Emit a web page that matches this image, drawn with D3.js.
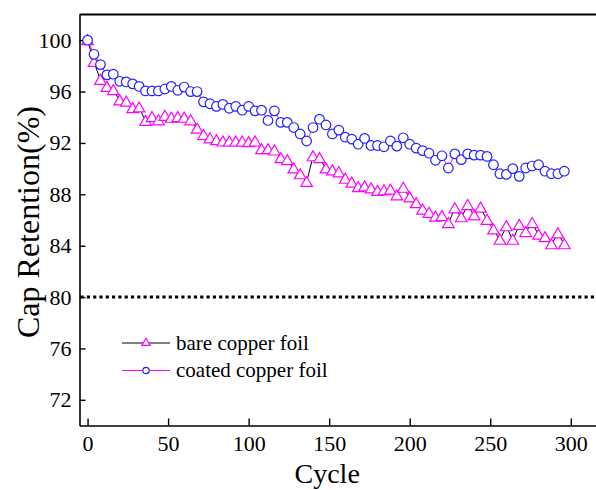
<!DOCTYPE html>
<html>
<head>
<meta charset="utf-8">
<script src="https://cdn.jsdelivr.net/npm/d3@7"></script>
<style>
  body { margin: 0; background: #fff; }
  text { font-family: "Liberation Serif", "Times New Roman", serif; fill: #000; }
</style>
</head>
<body>
<div id="chart"></div>
<script>
// cycles where markers sit (every 4 cycles)
const cycles = d3.range(0, 297, 4)

const bare = [100, 98.3, 96.9, 96.35, 96.1, 95.3, 95.2, 94.7, 94.75, 93.7,
    94.0, 93.75, 94.1, 93.95, 94.0, 93.95, 93.75, 93.1, 92.6, 92.35,
    92.2, 92.1, 92.1, 92.1, 92.1, 92.05, 92.1, 91.5, 91.5, 91.4,
    90.8, 90.65, 90.0, 89.55, 88.95, 90.95, 90.8, 90.0, 89.85, 89.7,
    89.2, 88.9, 88.55, 88.6, 88.45, 88.25, 88.3, 88.35, 87.9, 88.5,
    87.75, 87.3, 86.8, 86.55, 86.25, 86.3, 85.75, 86.9, 86.2, 87.15,
    86.35, 86.95, 86.0, 85.25, 84.45, 85.5, 84.45, 85.6, 85.05, 85.75,
    84.85, 84.65, 84.1, 84.95, 84.1]

const coated = [100, 98.9, 98.1, 97.3, 97.35, 96.8, 96.75, 96.6, 96.4, 96.05,
    96.05, 96.05, 96.2, 96.4, 96.1, 96.35, 96.0, 96.0, 95.2, 95.05,
    94.85, 95.0, 94.7, 94.85, 94.55, 94.85, 94.5, 94.55, 93.75, 94.5,
    93.6, 93.6, 93.2, 92.7, 92.15, 93.2, 93.85, 93.4, 92.7, 93.0,
    92.45, 92.3, 91.9, 92.35, 91.8, 91.8, 91.7, 92.15, 91.75, 92.4,
    91.9, 91.6, 91.4, 91.2, 90.65, 91.0, 90.05, 91.15, 90.7, 91.15,
    91.05, 91.05, 90.95, 90.3, 89.6, 89.55, 90.0, 89.4, 90.05, 90.2,
    90.3, 89.8, 89.6, 89.6, 89.8]

const xTicks = [0, 50, 100, 150, 200, 250, 300]
const yTicks = [72, 76, 80, 84, 88, 92, 96, 100]
const limit = 80

const width = 596
const height = 490
const margin = {top: 14.5, right: -7, bottom: 64.5, left: 79.5}

const svg = d3.select('#chart')
    .append('svg')
    .attr('width', width)
    .attr('height', height)

const x = d3.scaleLinear()
    .domain([-5, 320])
    .range([margin.left, width - margin.right])

const y = d3.scaleLinear()
    .domain([70, 102])
    .range([height - margin.bottom, margin.top])

// frame
svg.append('line')
    .attr('x1', x.range()[0]).attr('x2', x.range()[1])
    .attr('y1', margin.top).attr('y2', margin.top)
    .attr('stroke', '#000').attr('stroke-width', 2)

const xAxis = svg.append('g')
    .attr('transform', `translate(0,${y(70)})`)
    .call(d3.axisBottom(x).tickValues(xTicks).tickSizeInner(-7).tickSizeOuter(0).tickPadding(10))
const yAxis = svg.append('g')
    .attr('transform', `translate(${x(-5)},0)`)
    .call(d3.axisLeft(y).tickValues(yTicks).tickSizeInner(-6).tickSizeOuter(0).tickPadding(8))

for (const ax of [xAxis, yAxis]) {
    ax.attr('font-family', '"Liberation Serif", serif').attr('font-size', 22)
    ax.select('.domain').attr('stroke-width', 1.6)
    ax.selectAll('.tick line').attr('stroke-width', 1.4)
    ax.selectAll('.tick text')
        .style('font-family', '"Liberation Serif", serif')
        .style('font-size', '22px')
        .attr('fill', '#000')
}
xAxis.selectAll('.tick text').attr('dy', '0.71em')

// 80% line
svg.append('line')
    .attr('x1', x(-5) + 1).attr('x2', width)
    .attr('y1', y(limit)).attr('y2', y(limit))
    .attr('stroke', '#000')
    .attr('stroke-width', 3)
    .attr('stroke-dasharray', '3.2,3.1')

const line = d3.line()
    .x((d, i) => x(cycles[i]))
    .y(d => y(d))

const tri = d3.symbol().type(d3.symbolTriangle).size(58)

svg.append('path')
    .datum(bare)
    .attr('d', line)
    .attr('fill', 'none')
    .attr('stroke', '#000')
    .attr('stroke-width', 1)

svg.append('path')
    .datum(coated)
    .attr('d', line)
    .attr('fill', 'none')
    .attr('stroke', '#ff00ff')
    .attr('stroke-width', 1)

svg.append('g')
    .selectAll('path')
    .data(bare)
    .join('path')
    .attr('d', tri)
    .attr('transform', (d, i) => `translate(${x(cycles[i])},${y(d) + 1})`)
    .attr('fill', '#fff')
    .attr('stroke', '#ff00ff')
    .attr('stroke-width', 1.2)

svg.append('g')
    .selectAll('circle')
    .data(coated)
    .join('circle')
    .attr('cx', (d, i) => x(cycles[i]))
    .attr('cy', d => y(d))
    .attr('r', 4.8)
    .attr('fill', '#fff')
    .attr('stroke', '#2222ff')
    .attr('stroke-width', 1.2)

// legend
const legend = svg.append('g').attr('transform', 'translate(122,343)')
const items = [
    {label: 'bare copper foil', line: '#000', mark: 'tri'},
    {label: 'coated copper foil', line: '#ff00ff', mark: 'circle'}
]
items.forEach((it, i) => {
    const g = legend.append('g').attr('transform', `translate(0,${i * 27.5})`)
    g.append('line')
        .attr('x1', 0).attr('x2', 48)
        .attr('y1', 0).attr('y2', 0)
        .attr('stroke', it.line).attr('stroke-width', 1)
    if (it.mark === 'tri') {
        g.append('path')
            .attr('d', d3.symbol().type(d3.symbolTriangle).size(30))
            .attr('transform', 'translate(24,0)')
            .attr('fill', '#fff').attr('stroke', '#ff00ff').attr('stroke-width', 1.2)
    } else {
        g.append('circle')
            .attr('cx', 24).attr('cy', 0).attr('r', 3.2)
            .attr('fill', '#fff').attr('stroke', '#2222ff').attr('stroke-width', 1.2)
    }
    g.append('text')
        .attr('x', 54)
        .attr('y', 0)
        .attr('dy', '0.32em')
        .style('font-size', '21px')
        .text(it.label)
})

// axis titles
svg.append('text')
    .attr('x', x(150) - 2)
    .attr('y', 483)
    .attr('text-anchor', 'middle')
    .style('font-size', '28px')
    .text('Cycle')

svg.append('text')
    .attr('transform', `translate(39,222) rotate(-90)`)
    .attr('text-anchor', 'middle')
    .style('font-size', '32px')
    .text('Cap Retention(%)')
</script>
</body>
</html>
